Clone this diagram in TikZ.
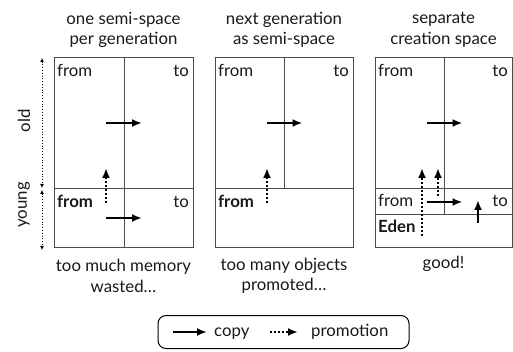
\documentclass[tikz,border=0pt]{standalone}
\usepackage{fontspec}
\setmainfont{Lato}
\usetikzlibrary{positioning,arrows.meta}

\begin{document}
\begin{tikzpicture}[x=1pt,y=-1pt,
    space/.style={draw=black!70,line width=1pt},
    cpy/.style={-{Latex[length=10pt,width=8pt]},line width=2pt},
    prm/.style={cpy,dotted},
    gen/.style={{Latex[length=4pt,width=4pt]}-{Latex[length=4pt,width=4pt]},dotted,line width=0.8pt},
    txt/.style={font=\fontsize{16.8}{20.5}\selectfont,inner sep=0pt,text=black!90},
    btxt/.style={txt,font=\fontsize{16.8}{20.5}\selectfont\bfseries}]
    \useasboundingbox (0,0) rectangle (513,352);
    % spaces
    \foreach \l/\r in {54/193,215/353,375/512}
        \draw[space] (\l,58) rectangle (\r,248);
    \draw[space] (124,58)--(124,248) (54,189)--(193,189);
    \draw[space] (284,58)--(284,189) (215,189)--(353,189);
    \draw[space] (444,58)--(444,215) (375,189)--(512,189) (375,215)--(512,215);
    % titles and verdicts
    \node[txt,align=center] (t1) at (123.5,30) {one semi-space\\per generation};
    \node[txt,align=center] (t2) at (284,30) {next generation\\as semi-space};
    \node[txt,align=center] (t3) at (443.5,30) {separate\\creation space};
    \node[txt,align=center] (v1) at (123.5,276) {too much memory\\wasted\dots};
    \node[txt,align=center] (v2) at (284,276) {too many objects\\promoted\dots};
    \node[txt,anchor=base] (v3) at (443.5,268) {good!};
    % space labels
    \foreach \n/\x in {f1/57,f2/218,f3/378}
        \node[txt,anchor=base west] (\n) at (\x,77) {from};
    \foreach \n/\x in {o1/189,o2/349,o3/508}
        \node[txt,anchor=base east] (\n) at (\x,77) {to};
    \node[btxt,anchor=base west] (yf1) at (57,208) {from};
    \node[txt,anchor=base east] (yo1) at (189,208) {to};
    \node[btxt,anchor=base west] (yf2) at (218,208) {from};
    \node[txt,anchor=base west] (yf3) at (378,207) {from};
    \node[txt,anchor=base east] (yo3) at (508,207) {to};
    \node[btxt,anchor=base west] (eden) at (378,233) {Eden};
    % generations
    \node[txt,rotate=90] (old) at (24,121) {old};
    \node[txt,rotate=90] (young) at (24,205) {young};
    \coordinate (g0) at (42,58);
    \coordinate (g1) at (42,188);
    \coordinate (g2) at (42,190);
    \coordinate (g3) at (42,250);
    \draw[gen] (g0) -- (g1);
    \draw[gen] (g2) -- (g3);
    % copying
    \foreach \n/\x/\y in {a/124/123,b/124/218,c/284.5/123,d/444.5/123,e/444.5/202} {
        \coordinate (\n0) at (\x-18,\y);
        \coordinate (\n1) at (\x+18,\y);
        \draw[cpy] (\n0) -- (\n1);
    }
    \coordinate (u0) at (478,223);
    \coordinate (u1) at (478,200);
    \draw[cpy] (u0) -- (u1);
    % promotion
    \foreach \n/\x/\y in {p/106/203,q/267/203,r/422/236,s/438/196} {
        \coordinate (\n0) at (\x,\y);
        \coordinate (\n1) at (\x,168);
        \draw[prm] (\n0) -- (\n1);
    }
    % legend
    \node[draw=black,line width=1pt,rounded corners=8pt,minimum width=251pt,minimum height=33pt] (legend) at (283.5,332) {};
    \coordinate (lc0) at (173,332);
    \coordinate (lc1) at (207,332);
    \draw[cpy] (lc0) -- (lc1);
    \node[txt,anchor=base west] (lcopy) at (214,336) {copy};
    \coordinate (lp0) at (270,332);
    \coordinate (lp1) at (298,332);
    \draw[prm] (lp0) -- (lp1);
    \node[txt,anchor=base west] (lprom) at (311,336) {promotion};
\end{tikzpicture}
\end{document}
